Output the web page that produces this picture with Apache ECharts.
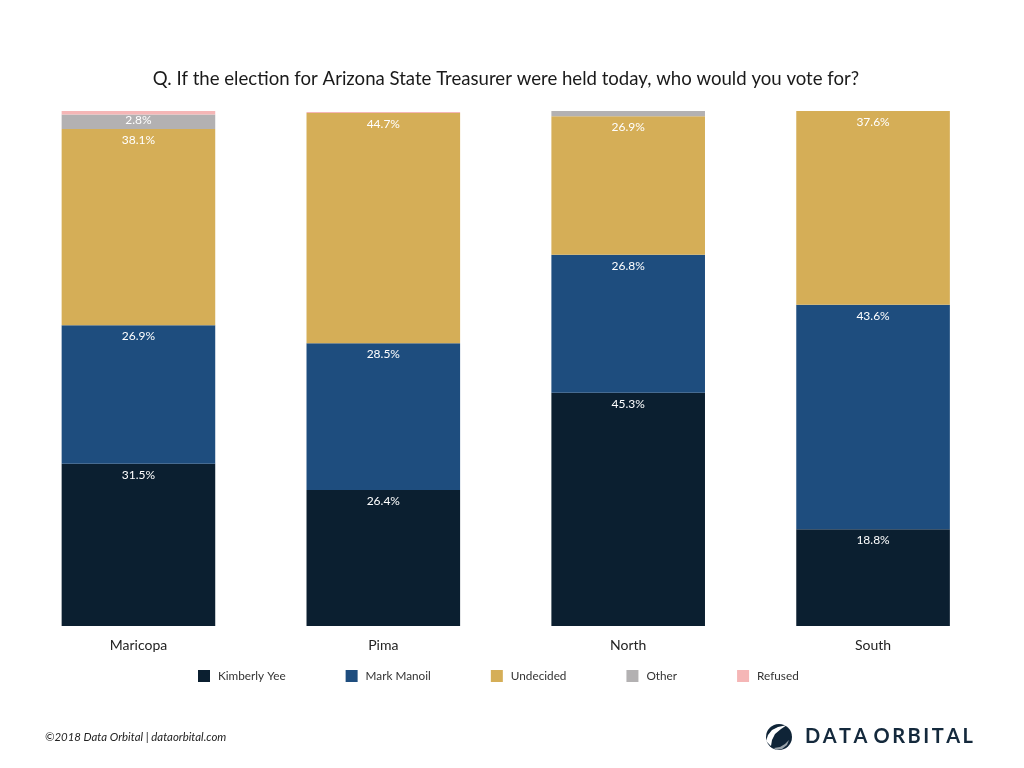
<!DOCTYPE html>
<html>
<head>
<meta charset="utf-8">
<title>Arizona State Treasurer</title>
<script src="https://cdn.jsdelivr.net/npm/echarts@6/dist/echarts.min.js"></script>
<style>
html, body { margin: 0; padding: 0; background: #fff; }
#chart { width: 1024px; height: 768px; }
</style>
</head>
<body>
<div id="chart"></div>
<script>
var regions = ['Maricopa', 'Pima', 'North', 'South'];
var seriesNames = ['Kimberly Yee', 'Mark Manoil', 'Undecided', 'Other', 'Refused'];
var yee = [31.5, 26.4, 45.3, 18.8];
var manoil = [26.9, 28.5, 26.8, 43.6];
var undecided = [38.1, 44.7, 26.9, 37.6];
var other = [2.8, 0, 1.0, 0];
var refused = [0.7, 0.2, 0, 0];
var colors = ['#0b1f30', '#1e4d7e', '#d5ae57', '#b3b1b2', '#f5b6b6'];

var titleText = 'Q. If the election for Arizona State Treasurer were held today, who would you vote for?';
var fontName = 'Lato';

var myChart = echarts.init(document.getElementById('chart'));

function makeSeries(name, values, color) {
    return {
        name: name,
        type: 'bar',
        stack: 'total',
        barWidth: 153.6,
        itemStyle: { color: color },
        data: values.map(function (v) {
            // thin segments get their label pushed up against the top edge
            return {
                value: v,
                label: { distance: v < 5 ? 0 : 5 }
            };
        }),
        label: {
            show: true,
            position: 'insideTop',
            color: '#fff',
            fontFamily: fontName,
            fontSize: 12,
            formatter: function (p) {
                return p.value >= 2 ? p.value.toFixed(1) + '%' : '';
            }
        }
    };
}

var allValues = [yee, manoil, undecided, other, refused];

var option = {
    animation: false,
    backgroundColor: '#fff',
    title: {
        text: titleText,
        left: 501,
        top: 64.5,
        textAlign: 'center',
        textStyle: { fontFamily: fontName, fontSize: 18.6, fontWeight: 'normal', color: '#1a1a1a' }
    },
    legend: {
        data: seriesNames,
        left: 193,
        top: 665,
        icon: 'rect',
        itemWidth: 12,
        itemHeight: 12,
        itemGap: 60,
        selectedMode: false,
        textStyle: { fontFamily: fontName, fontSize: 11.75, color: '#333', padding: [0, 0, 0, 3] }
    },
    grid: { left: 16, right: 28.5, top: 111, bottom: 142 },
    xAxis: {
        type: 'category',
        data: regions,
        axisLine: { show: false },
        axisTick: { show: false },
        axisLabel: { fontFamily: fontName, fontSize: 14, color: '#222', margin: 12 }
    },
    yAxis: { type: 'value', min: 0, max: 100, show: false },
    series: seriesNames.map(function (n, i) {
        return makeSeries(n, allValues[i], colors[i]);
    }),
    graphic: [
        {
            type: 'text',
            left: 45,
            top: 732,
            style: {
                text: '©2018 Data Orbital | dataorbital.com',
                fontFamily: fontName,
                fontStyle: 'italic',
                fontSize: 11.4,
                fill: '#222'
            }
        },
        {
            type: 'circle',
            shape: { cx: 779, cy: 737, r: 13 },
            style: { fill: '#0f2437' }
        },
        {
            // swoosh across the logo globe
            type: 'polygon',
            shape: {
                points: [[766, 741], [768, 735], [772, 730], [778, 727], [787, 725], [781, 729], [775, 734], [772, 740], [771, 746]]
            },
            style: { fill: '#fff' }
        },
        {
            type: 'polygon',
            shape: {
                points: [[774, 748], [780, 747], [785, 744], [789, 740], [787, 745], [782, 749], [776, 750]]
            },
            style: { fill: '#9aa3ab' }
        },
        {
            type: 'text',
            left: 805,
            top: 727,
            style: {
                text: 'D\u2009A\u2009T\u2009A \u200AO\u2009R\u2009B\u2009I\u2009T\u2009A\u2009L',
                fontFamily: fontName,
                fontWeight: 'bold',
                fontSize: 20,
                fill: '#14293c'
            }
        }
    ]
};

myChart.setOption(option);
window.onresize = function () {
    myChart.resize();
};
</script>
</body>
</html>
